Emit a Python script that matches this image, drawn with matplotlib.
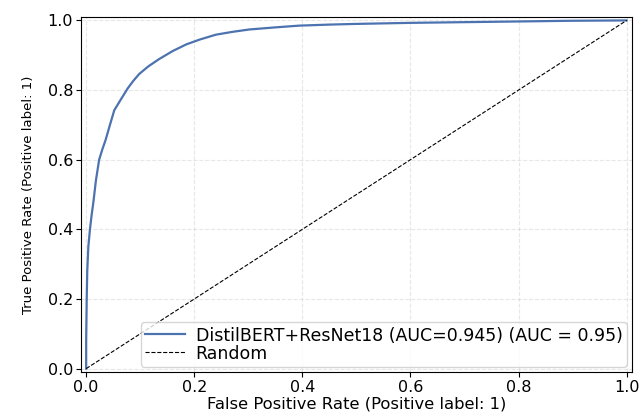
import numpy as np
import matplotlib.pyplot as plt

# ROC points
fpr = [0.0, 0.0, 0.001, 0.002, 0.004, 0.007, 0.010, 0.0135, 0.018, 0.024, 0.030,
       0.036, 0.044, 0.052, 0.063, 0.0765, 0.087, 0.098, 0.115, 0.135, 0.160,
       0.185, 0.210, 0.240, 0.270, 0.302, 0.350, 0.394, 0.450, 0.500, 0.600,
       0.700, 0.800, 0.900, 1.0]
tpr = [0.0, 0.08, 0.20, 0.28, 0.35, 0.40, 0.44, 0.48, 0.54, 0.60, 0.63,
       0.657, 0.70, 0.742, 0.77, 0.804, 0.826, 0.846, 0.868, 0.889, 0.912,
       0.931, 0.945, 0.959, 0.967, 0.974, 0.980, 0.985, 0.988, 0.990, 0.993,
       0.995, 0.997, 0.999, 1.0]
model_label = 'DistilBERT+ResNet18 (AUC=0.945) (AUC = 0.95)'

fig, ax = plt.subplots(figsize=(6.41, 4.13), dpi=100)
fig.subplots_adjust(left=0.126, right=0.986, top=0.959, bottom=0.099)

ax.plot(fpr, tpr, color='#4C72B0', linewidth=1.6, label=model_label)
ax.plot([0, 1], [0, 1], 'k--', linewidth=0.8, label='Random')

ax.set_xlim(-0.01, 1.01)
ax.set_ylim(-0.01, 1.01)
ax.set_xticks([0, 0.2, 0.4, 0.6, 0.8, 1.0])
ax.set_yticks([0, 0.2, 0.4, 0.6, 0.8, 1.0])
ax.tick_params(labelsize=11.5, pad=2)
ax.set_xlabel('False Positive Rate (Positive label: 1)', fontsize=11.8, labelpad=1)
ax.set_ylabel('True Positive Rate (Positive label: 1)', fontsize=9.5, labelpad=9)
ax.grid(True, linestyle='--', alpha=0.3)
ax.legend(loc='lower right', fontsize=12.5, labelspacing=0.0, borderpad=0.25,
          handlelength=2.3, handletextpad=0.6, borderaxespad=0.3)

plt.savefig('out.png', dpi=100)
